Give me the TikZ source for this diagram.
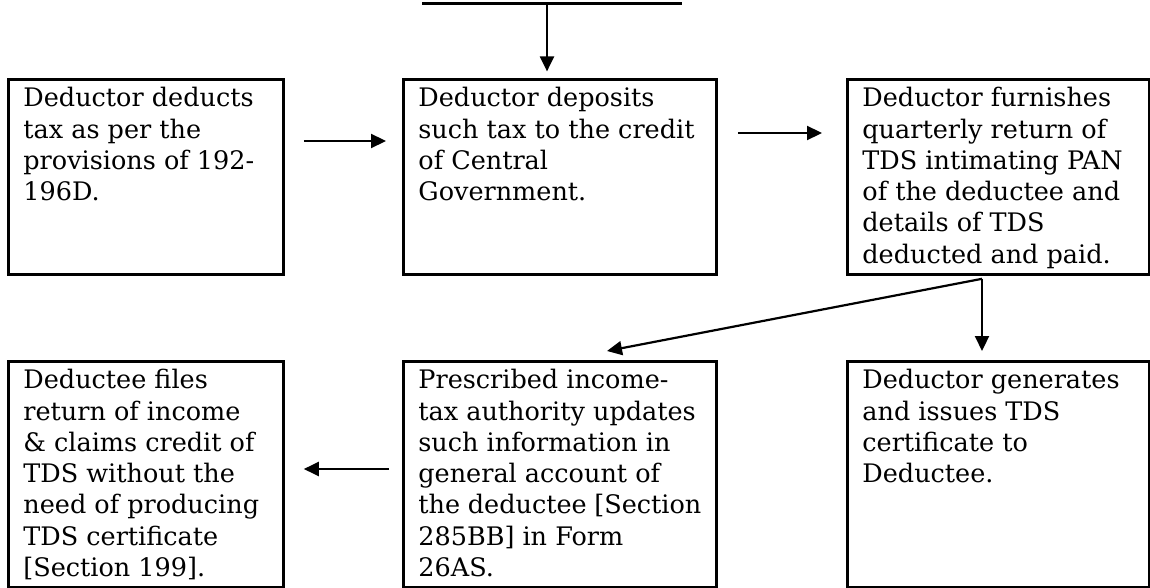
\documentclass[tikz,border=0pt]{standalone}
\usepackage{fontspec}
\setmainfont{DejaVu Serif}
\usetikzlibrary{arrows.meta,calc}
\newcommand\mytext[3]{\begin{minipage}[t][#2][t]{#1}\raggedright #3\end{minipage}}
\begin{document}
\begin{tikzpicture}[x=1pt,y=-1pt,
  box/.style={draw, line width=2.8pt, anchor=north west, inner xsep=15pt, inner ysep=8pt,
    font=\fontsize{25.5}{31.3}\selectfont},
  arr/.style={line width=2.2pt, -{Triangle[length=15pt,width=14pt]}}]
\useasboundingbox (0,0) rectangle (1150,588);

\node[box] (b1) at (7,78) {\mytext{245pt}{179pt}{Deductor deducts\\tax as per the\\provisions of 192-\\196D.}};
\node[box] (b2) at (402,78) {\mytext{283pt}{179pt}{Deductor deposits\\such tax to the credit\\of Central\\Government.}};
\node[box] (b3) at (846,78) {\mytext{272pt}{179pt}{Deductor furnishes\\quarterly return of\\TDS intimating PAN\\of the deductee and\\details of TDS\\deducted and paid.}};

\node[box] (b4) at (7,360) {\mytext{245pt}{210pt}{Deductee files\\return of income\\\& claims credit of\\TDS without the\\need of producing\\TDS certificate\\{[Section 199].}}};
\node[box] (b5) at (402,360) {\mytext{283pt}{210pt}{Prescribed income-\\tax authority updates\\such information in\\general account of\\the deductee [Section\\285BB] in Form\\26AS.}};
\node[box] (b6) at (846,360) {\mytext{272pt}{210pt}{Deductor generates\\and issues TDS\\certificate to\\Deductee.}};

% top line and arrow
\coordinate (tl) at (422,3.5);
\coordinate (tr) at (682,3.5);
\draw[line width=3.5pt] (tl) -- (tr);
\coordinate (ta) at (547,5);
\draw[arr, shorten >=6.6pt] (ta) -- (ta |- b2.north);

% row arrows
\draw[arr] ($(b1.north east)+(19,63)$) -- ($(b2.north west)+(-16,63)$);
\draw[arr] ($(b2.north east)+(20,55)$) -- ($(b3.north west)+(-24,55)$);
\draw[arr] ($(b5.north west)+(-13,109)$) -- ($(b4.north east)+(19,109)$);

% split from b3
\coordinate (sp) at ($(b3.south west)+(136,3)$);
\draw[arr, shorten >=9pt] (sp) -- (sp |- b6.north);
\draw[arr] (sp) -- ($(b5.north west)+(205,-9)$);
\end{tikzpicture}
\end{document}
